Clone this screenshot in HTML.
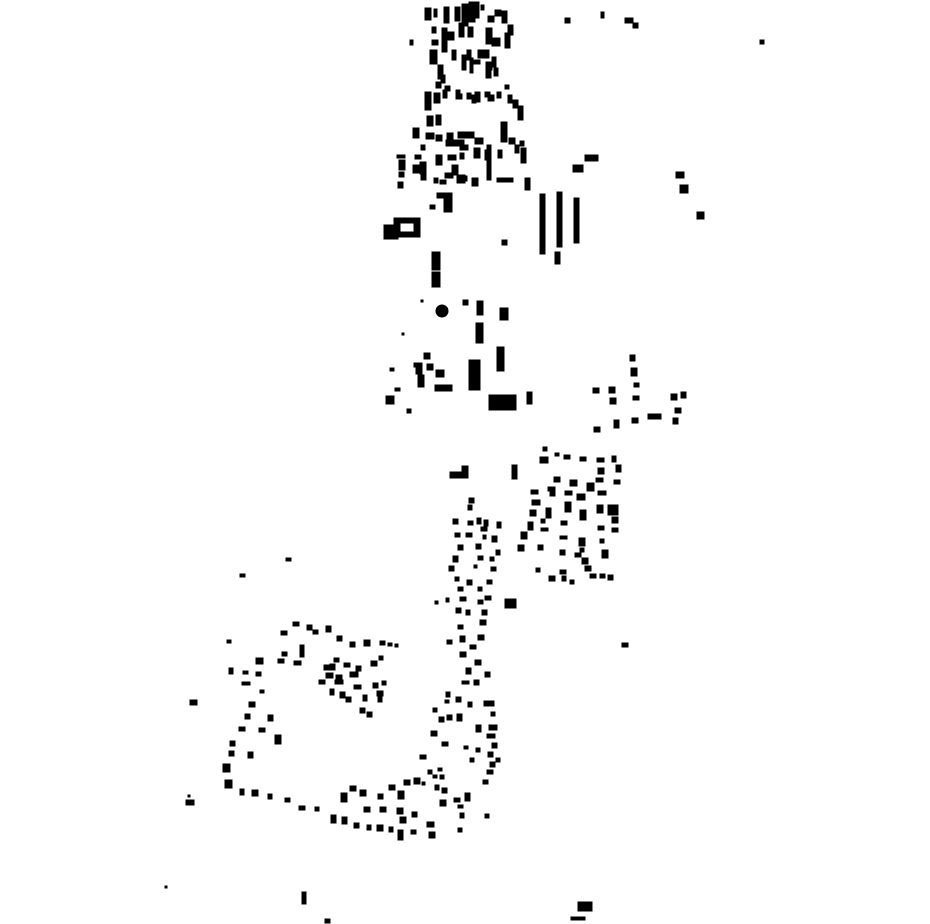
<!DOCTYPE html>
<html><head><meta charset="utf-8"><style>html,body{margin:0;padding:0;background:#fff}svg{display:block}</style></head>
<body>
<svg width="930" height="924" viewBox="0 0 930 924" xmlns="http://www.w3.org/2000/svg">
<rect width="930" height="924" fill="#fff"/>
<g fill="#000" stroke="#000" stroke-width="1">
<rect x="425" y="8" width="6" height="12"/><rect x="434" y="9" width="3" height="8"/><rect x="444" y="7" width="5" height="16"/><rect x="455" y="7" width="5" height="14"/><rect x="462" y="4" width="6" height="22"/><rect x="469" y="2" width="6" height="20"/><rect x="474" y="2" width="5" height="16"/><rect x="481" y="5" width="3" height="5"/><rect x="488" y="16" width="6" height="6"/><rect x="495" y="10" width="6" height="6"/><rect x="502" y="11" width="5" height="12"/><rect x="508" y="25" width="5" height="10"/><rect x="432" y="27" width="4" height="6"/><rect x="442" y="28" width="5" height="24"/><rect x="448" y="32" width="6" height="8"/><rect x="459" y="23" width="5" height="14"/><rect x="468" y="27" width="5" height="10"/><rect x="486" y="28" width="6" height="16"/><rect x="492" y="38" width="8" height="8"/><rect x="505" y="33" width="5" height="15"/><rect x="410" y="40" width="3" height="5"/><rect x="432" y="40" width="6" height="5"/><rect x="430" y="50" width="7" height="14"/><rect x="452" y="50" width="4" height="10"/><rect x="467" y="50" width="4" height="10"/><rect x="478" y="50" width="6" height="8"/><rect x="474" y="60" width="6" height="4"/><rect x="485" y="50" width="4" height="8"/><rect x="492" y="57" width="4" height="10"/><rect x="438" y="65" width="5" height="14"/><rect x="441" y="75" width="4" height="8"/><rect x="462" y="55" width="4" height="15"/><rect x="470" y="58" width="3" height="15"/><rect x="486" y="62" width="6" height="8"/><rect x="486" y="68" width="5" height="10"/><rect x="494" y="68" width="4" height="8"/><rect x="436" y="82" width="5" height="6"/><rect x="445" y="86" width="5" height="5"/><rect x="456" y="94" width="6" height="5"/><rect x="485" y="92" width="5" height="5"/><rect x="505" y="85" width="4" height="4"/><rect x="508" y="95" width="4" height="8"/><rect x="513" y="100" width="5" height="8"/><rect x="518" y="106" width="5" height="14"/><rect x="425" y="92" width="6" height="18"/><rect x="434" y="93" width="6" height="10"/><rect x="443" y="90" width="4" height="8"/><rect x="456" y="90" width="4" height="8"/><rect x="467" y="93" width="4" height="6"/><rect x="472" y="95" width="4" height="8"/><rect x="475" y="92" width="5" height="10"/><rect x="488" y="95" width="6" height="6"/><rect x="497" y="92" width="4" height="6"/><rect x="427" y="116" width="6" height="10"/><rect x="436" y="115" width="5" height="10"/><rect x="413" y="128" width="6" height="10"/><rect x="426" y="133" width="8" height="6"/><rect x="436" y="135" width="6" height="6"/><rect x="447" y="133" width="6" height="6"/><rect x="446" y="140" width="18" height="6"/><rect x="458" y="132" width="16" height="6"/><rect x="460" y="145" width="8" height="5"/><rect x="475" y="138" width="8" height="6"/><rect x="460" y="153" width="4" height="6"/><rect x="448" y="155" width="8" height="5"/><rect x="474" y="148" width="6" height="10"/><rect x="501" y="122" width="6" height="20"/><rect x="509" y="138" width="6" height="6"/><rect x="520" y="141" width="4" height="5"/><rect x="515" y="145" width="4" height="8"/><rect x="521" y="148" width="5" height="15"/><rect x="498" y="150" width="4" height="8"/><rect x="485" y="150" width="5" height="10"/><rect x="436" y="155" width="6" height="10"/><rect x="421" y="145" width="4" height="5"/><rect x="415" y="155" width="6" height="4"/><rect x="420" y="162" width="6" height="12"/><rect x="397" y="155" width="8" height="3"/><rect x="399" y="160" width="6" height="10"/><rect x="399" y="172" width="5" height="5"/><rect x="398" y="182" width="5" height="6"/><rect x="413" y="165" width="6" height="8"/><rect x="421" y="175" width="5" height="5"/><rect x="434" y="178" width="4" height="5"/><rect x="440" y="180" width="6" height="4"/><rect x="445" y="173" width="8" height="5"/><rect x="452" y="165" width="6" height="10"/><rect x="457" y="175" width="8" height="8"/><rect x="463" y="176" width="4" height="5"/><rect x="472" y="178" width="6" height="8"/><rect x="487" y="145" width="4" height="35"/><rect x="497" y="178" width="16" height="4"/><rect x="525" y="178" width="5" height="12"/>
<rect x="565" y="18" width="5" height="5"/><rect x="601" y="12" width="3" height="6"/><rect x="625" y="18" width="8" height="5"/><rect x="633" y="23" width="5" height="5"/><rect x="760" y="40" width="4" height="4"/><rect x="585" y="155" width="13" height="6"/><rect x="573" y="165" width="10" height="7"/><rect x="676" y="172" width="8" height="6"/><rect x="680" y="185" width="8" height="8"/><rect x="697" y="212" width="7" height="7"/>
<rect x="384" y="225" width="14" height="14"/>
<rect x="394" y="218" width="26" height="19"/><rect x="400" y="223" width="14" height="9" fill="#fff"/>
<rect x="437" y="193" width="15" height="5"/><rect x="444" y="198" width="8" height="14"/><rect x="430" y="205" width="5" height="4"/>
<rect x="540" y="194" width="5" height="60"/><rect x="557" y="192" width="5" height="55"/><rect x="574" y="198" width="5" height="45"/><rect x="502" y="240" width="5" height="5"/><rect x="555" y="252" width="5" height="12"/>
<rect x="432" y="252" width="8" height="18"/><rect x="432" y="272" width="8" height="15"/>
<circle cx="442" cy="311" r="6"/><rect x="421" y="300" width="2" height="2"/><rect x="402" y="333" width="2" height="2"/><rect x="463" y="300" width="5" height="5"/><rect x="477" y="301" width="6" height="14"/><rect x="500" y="308" width="8" height="12"/><rect x="476" y="323" width="7" height="20"/><rect x="497" y="347" width="7" height="24"/><rect x="469" y="360" width="11" height="30"/><rect x="424" y="353" width="6" height="6"/><rect x="414" y="363" width="8" height="4"/><rect x="416" y="368" width="6" height="6"/><rect x="427" y="364" width="6" height="6"/><rect x="418" y="375" width="6" height="12"/><rect x="436" y="370" width="8" height="7"/><rect x="435" y="385" width="17" height="6"/><rect x="386" y="396" width="8" height="8"/><rect x="395" y="388" width="5" height="3"/><rect x="390" y="368" width="4" height="3"/><rect x="407" y="409" width="4" height="4"/><rect x="489" y="395" width="27" height="15"/><rect x="527" y="392" width="5" height="12"/>
<rect x="630" y="355" width="5" height="6"/><rect x="631" y="368" width="6" height="8"/><rect x="634" y="383" width="5" height="4"/><rect x="593" y="388" width="6" height="5"/><rect x="609" y="387" width="6" height="6"/><rect x="610" y="398" width="6" height="6"/><rect x="633" y="396" width="6" height="4"/><rect x="648" y="414" width="13" height="5"/><rect x="671" y="394" width="6" height="6"/><rect x="681" y="392" width="5" height="6"/><rect x="675" y="408" width="6" height="5"/><rect x="673" y="418" width="5" height="6"/><rect x="594" y="427" width="6" height="5"/><rect x="614" y="420" width="5" height="8"/><rect x="632" y="418" width="6" height="5"/>
<rect x="543" y="447" width="4" height="4"/><rect x="540" y="457" width="8" height="6"/><rect x="555" y="453" width="4" height="3"/><rect x="564" y="455" width="6" height="4"/><rect x="580" y="457" width="6" height="4"/><rect x="597" y="458" width="7" height="4"/><rect x="612" y="456" width="4" height="6"/><rect x="616" y="465" width="5" height="7"/><rect x="598" y="468" width="6" height="6"/><rect x="596" y="478" width="7" height="4"/><rect x="614" y="480" width="6" height="4"/><rect x="554" y="477" width="6" height="5"/><rect x="548" y="487" width="7" height="4"/><rect x="570" y="480" width="7" height="6"/><rect x="587" y="483" width="7" height="8"/><rect x="531" y="490" width="7" height="4"/><rect x="550" y="490" width="5" height="6"/><rect x="565" y="491" width="7" height="4"/><rect x="577" y="494" width="8" height="6"/><rect x="598" y="491" width="8" height="4"/><rect x="532" y="500" width="8" height="5"/><rect x="530" y="510" width="6" height="6"/><rect x="546" y="508" width="5" height="10"/><rect x="565" y="502" width="6" height="10"/><rect x="580" y="510" width="6" height="10"/><rect x="597" y="505" width="6" height="8"/><rect x="608" y="505" width="10" height="10"/><rect x="612" y="517" width="6" height="6"/><rect x="528" y="522" width="5" height="8"/><rect x="541" y="519" width="4" height="4"/><rect x="561" y="521" width="6" height="4"/><rect x="598" y="526" width="6" height="4"/><rect x="612" y="528" width="6" height="4"/><rect x="521" y="532" width="6" height="7"/><rect x="541" y="528" width="7" height="3"/><rect x="560" y="536" width="7" height="3"/><rect x="579" y="538" width="6" height="8"/><rect x="600" y="539" width="4" height="4"/><rect x="518" y="545" width="6" height="6"/><rect x="538" y="545" width="5" height="5"/><rect x="560" y="550" width="5" height="5"/><rect x="575" y="553" width="6" height="4"/><rect x="580" y="548" width="4" height="4"/><rect x="582" y="558" width="6" height="6"/><rect x="602" y="550" width="6" height="8"/><rect x="585" y="566" width="6" height="5"/><rect x="560" y="570" width="6" height="4"/><rect x="536" y="568" width="4" height="4"/><rect x="549" y="576" width="6" height="5"/><rect x="562" y="576" width="4" height="5"/><rect x="570" y="580" width="4" height="4"/><rect x="590" y="574" width="6" height="4"/><rect x="600" y="574" width="5" height="4"/><rect x="608" y="575" width="5" height="5"/>
<rect x="450" y="472" width="14" height="6"/><rect x="462" y="466" width="6" height="12"/><rect x="512" y="465" width="5" height="14"/>
<rect x="469" y="498" width="5" height="5"/><rect x="468" y="505" width="4" height="5"/><rect x="453" y="519" width="5" height="5"/><rect x="468" y="521" width="5" height="4"/><rect x="477" y="518" width="4" height="6"/><rect x="484" y="520" width="4" height="6"/><rect x="497" y="522" width="4" height="6"/><rect x="481" y="527" width="6" height="4"/><rect x="455" y="533" width="5" height="4"/><rect x="466" y="533" width="6" height="4"/><rect x="483" y="535" width="3" height="4"/><rect x="492" y="536" width="5" height="6"/><rect x="458" y="545" width="5" height="5"/><rect x="476" y="544" width="5" height="5"/><rect x="496" y="550" width="4" height="5"/><rect x="453" y="556" width="5" height="6"/><rect x="478" y="556" width="5" height="4"/><rect x="490" y="557" width="4" height="4"/><rect x="449" y="566" width="5" height="5"/><rect x="474" y="565" width="3" height="3"/><rect x="491" y="567" width="5" height="4"/><rect x="455" y="577" width="4" height="4"/><rect x="467" y="580" width="5" height="5"/><rect x="487" y="580" width="5" height="4"/><rect x="458" y="587" width="5" height="4"/><rect x="478" y="587" width="4" height="4"/><rect x="485" y="596" width="6" height="4"/><rect x="446" y="598" width="3" height="4"/><rect x="460" y="597" width="6" height="4"/><rect x="478" y="600" width="5" height="4"/><rect x="505" y="599" width="11" height="9"/>
<rect x="435" y="601" width="3" height="3"/><rect x="456" y="608" width="5" height="5"/><rect x="466" y="610" width="4" height="5"/><rect x="482" y="610" width="5" height="5"/><rect x="458" y="625" width="5" height="4"/><rect x="480" y="620" width="6" height="5"/><rect x="447" y="640" width="5" height="4"/><rect x="460" y="636" width="5" height="6"/><rect x="470" y="645" width="6" height="4"/><rect x="478" y="635" width="6" height="5"/><rect x="460" y="652" width="6" height="5"/><rect x="475" y="660" width="6" height="5"/><rect x="466" y="668" width="5" height="6"/><rect x="485" y="672" width="5" height="5"/><rect x="462" y="681" width="7" height="3"/><rect x="474" y="680" width="5" height="5"/><rect x="446" y="692" width="4" height="5"/><rect x="445" y="700" width="4" height="3"/><rect x="456" y="697" width="5" height="5"/><rect x="468" y="702" width="4" height="5"/><rect x="484" y="701" width="10" height="5"/><rect x="491" y="712" width="4" height="4"/><rect x="433" y="708" width="4" height="4"/><rect x="439" y="717" width="5" height="5"/><rect x="447" y="715" width="5" height="5"/><rect x="457" y="714" width="5" height="7"/><rect x="431" y="731" width="6" height="5"/><rect x="442" y="742" width="6" height="4"/><rect x="476" y="725" width="5" height="7"/><rect x="489" y="725" width="8" height="5"/><rect x="487" y="734" width="8" height="4"/><rect x="492" y="743" width="5" height="5"/><rect x="464" y="746" width="4" height="3"/><rect x="476" y="748" width="4" height="4"/><rect x="470" y="758" width="4" height="4"/><rect x="420" y="755" width="6" height="4"/><rect x="428" y="770" width="4" height="4"/><rect x="438" y="768" width="4" height="3"/><rect x="440" y="775" width="4" height="4"/><rect x="488" y="752" width="5" height="5"/><rect x="490" y="762" width="5" height="5"/><rect x="487" y="770" width="6" height="4"/><rect x="483" y="780" width="5" height="4"/><rect x="496" y="758" width="4" height="4"/>
<rect x="293" y="622" width="6" height="4"/><rect x="281" y="631" width="6" height="4"/><rect x="307" y="625" width="5" height="5"/><rect x="313" y="630" width="5" height="4"/><rect x="326" y="626" width="5" height="6"/><rect x="337" y="636" width="5" height="5"/><rect x="350" y="642" width="5" height="5"/><rect x="364" y="640" width="6" height="6"/><rect x="380" y="641" width="5" height="4"/><rect x="388" y="643" width="4" height="3"/><rect x="395" y="644" width="3" height="3"/><rect x="282" y="652" width="5" height="4"/><rect x="300" y="645" width="4" height="12"/><rect x="227" y="640" width="4" height="3"/><rect x="256" y="658" width="7" height="6"/><rect x="278" y="659" width="6" height="4"/><rect x="294" y="661" width="7" height="4"/><rect x="334" y="658" width="5" height="4"/><rect x="330" y="664" width="5" height="6"/><rect x="344" y="663" width="6" height="4"/><rect x="356" y="666" width="5" height="5"/><rect x="371" y="661" width="6" height="5"/><rect x="379" y="656" width="4" height="4"/><rect x="229" y="668" width="4" height="6"/><rect x="243" y="671" width="5" height="3"/><rect x="256" y="672" width="5" height="4"/><rect x="242" y="682" width="8" height="3"/><rect x="260" y="690" width="4" height="3"/><rect x="324" y="665" width="7" height="5"/><rect x="326" y="673" width="7" height="5"/><rect x="336" y="675" width="6" height="4"/><rect x="350" y="672" width="8" height="5"/><rect x="319" y="680" width="6" height="4"/><rect x="335" y="680" width="8" height="4"/><rect x="354" y="685" width="7" height="4"/><rect x="373" y="683" width="5" height="5"/><rect x="382" y="681" width="4" height="4"/><rect x="330" y="689" width="4" height="6"/><rect x="340" y="692" width="5" height="6"/><rect x="346" y="697" width="5" height="5"/><rect x="363" y="695" width="4" height="6"/><rect x="377" y="691" width="6" height="5"/><rect x="360" y="708" width="5" height="5"/><rect x="367" y="712" width="5" height="5"/><rect x="378" y="697" width="4" height="5"/><rect x="190" y="700" width="7" height="5"/><rect x="249" y="702" width="6" height="5"/><rect x="245" y="714" width="5" height="5"/><rect x="268" y="715" width="5" height="6"/><rect x="239" y="727" width="6" height="4"/><rect x="259" y="728" width="6" height="4"/><rect x="275" y="735" width="6" height="9"/><rect x="230" y="741" width="5" height="5"/><rect x="229" y="751" width="5" height="5"/><rect x="248" y="752" width="5" height="6"/><rect x="223" y="764" width="7" height="8"/><rect x="225" y="780" width="7" height="8"/><rect x="240" y="789" width="4" height="6"/><rect x="252" y="790" width="6" height="6"/><rect x="268" y="794" width="4" height="5"/><rect x="285" y="798" width="5" height="4"/><rect x="299" y="806" width="6" height="4"/><rect x="315" y="807" width="4" height="4"/><rect x="186" y="800" width="8" height="5"/><rect x="188" y="795" width="2" height="2"/>
<rect x="341" y="793" width="6" height="9"/><rect x="350" y="786" width="6" height="5"/><rect x="360" y="790" width="6" height="6"/><rect x="364" y="807" width="6" height="5"/><rect x="378" y="794" width="5" height="5"/><rect x="380" y="807" width="6" height="5"/><rect x="389" y="785" width="6" height="5"/><rect x="397" y="808" width="6" height="6"/><rect x="398" y="791" width="6" height="8"/><rect x="404" y="780" width="6" height="5"/><rect x="414" y="778" width="6" height="6"/><rect x="400" y="817" width="6" height="6"/><rect x="412" y="812" width="5" height="5"/><rect x="331" y="815" width="5" height="8"/><rect x="342" y="817" width="5" height="7"/><rect x="354" y="823" width="5" height="5"/><rect x="367" y="825" width="4" height="5"/><rect x="377" y="825" width="6" height="6"/><rect x="389" y="827" width="4" height="5"/><rect x="398" y="830" width="5" height="10"/><rect x="411" y="830" width="5" height="4"/><rect x="427" y="822" width="7" height="5"/><rect x="429" y="832" width="6" height="6"/><rect x="440" y="800" width="6" height="6"/><rect x="442" y="788" width="5" height="5"/><rect x="454" y="798" width="6" height="4"/><rect x="458" y="805" width="5" height="3"/><rect x="465" y="793" width="5" height="8"/><rect x="460" y="813" width="4" height="5"/><rect x="485" y="814" width="4" height="4"/><rect x="458" y="828" width="4" height="4"/><rect x="433" y="775" width="4" height="3"/><rect x="435" y="785" width="4" height="5"/><rect x="422" y="782" width="3" height="3"/>
<rect x="622" y="643" width="6" height="4"/><rect x="240" y="574" width="5" height="3"/><rect x="286" y="558" width="5" height="3"/><rect x="302" y="892" width="4" height="12"/><rect x="325" y="919" width="5" height="4"/><rect x="578" y="902" width="14" height="9"/><rect x="571" y="917" width="14" height="3"/><rect x="165" y="886" width="2" height="2"/>
</g>
</svg>
</body></html>
